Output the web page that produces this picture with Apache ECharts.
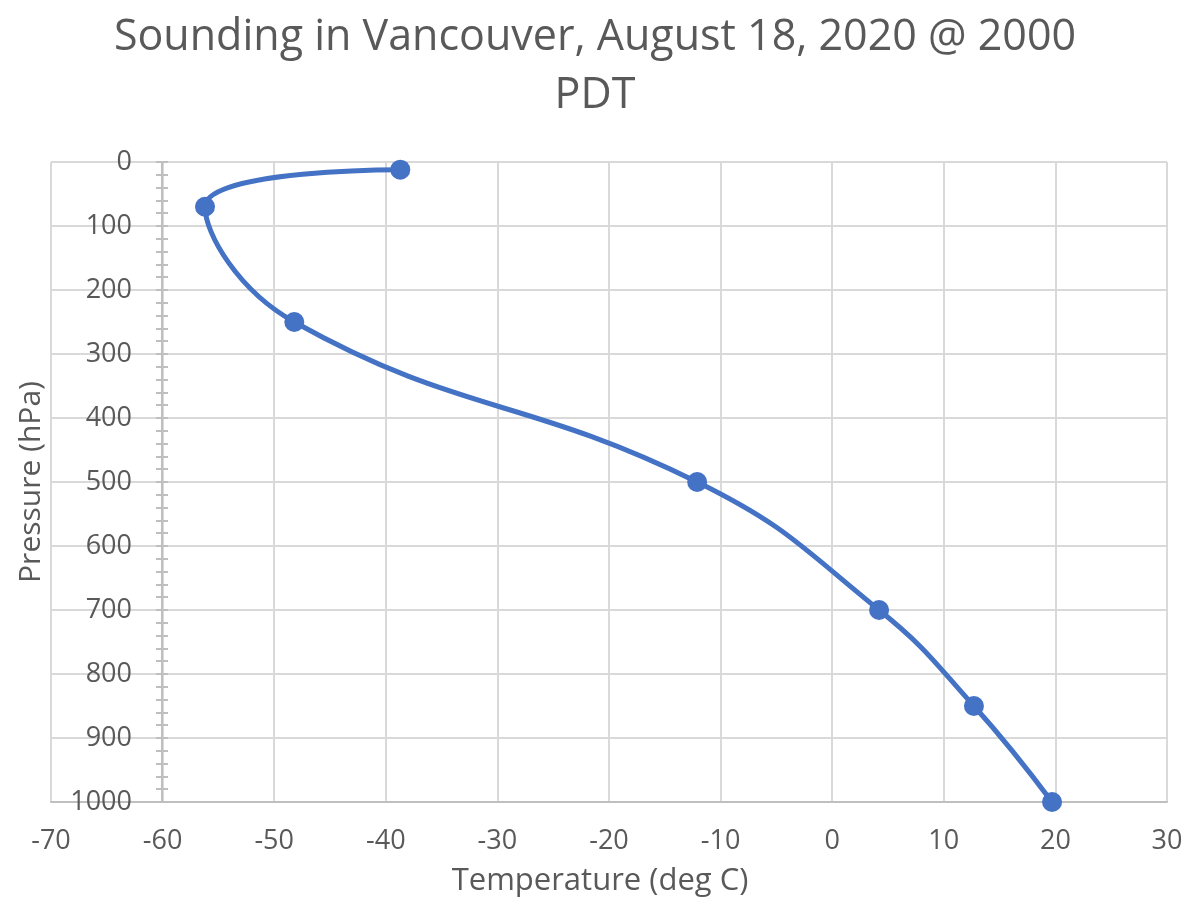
<!DOCTYPE html>
<html>
<head>
<meta charset="utf-8">
<title>Sounding in Vancouver</title>
<script src="https://cdn.jsdelivr.net/npm/echarts@6/dist/echarts.min.js"></script>
<style>
  html, body { margin: 0; padding: 0; background: #ffffff; }
  #chart { width: 1191px; height: 914px; }
</style>
</head>
<body>
<div id="chart"></div>
<script>
// sounding levels (top to surface)
const temperature = [-38.7, -56.2, -48.2, -12.1, 4.2, 12.7, 19.7];
const pressure = [12, 70, 250, 500, 700, 850, 1000];

const textColor = "#595959";
const gridColor = "#d9d9d9";
const axisColor = "#bfbfbf";
const fontFamily = "'Open Sans', 'Noto Sans', sans-serif";

const points = temperature.map((t, i) => [t, pressure[i]]);

const chart = echarts.init(document.getElementById("chart"));

// y axis crosses at -60, so push it right from the grid's left edge
const yOffset = -111;

const yBase = {
  type: "value",
  min: 0,
  max: 1000,
  interval: 100,
  inverse: true,
  position: "left",
  offset: yOffset,
  axisLine: { show: true, onZero: false, lineStyle: { color: axisColor, width: 2 } },
};

chart.setOption({
  animation: false,
  textStyle: { fontFamily: fontFamily },
  title: {
    text: "Sounding in Vancouver, August 18, 2020 @ 2000\nPDT",
    left: 590,
    textAlign: "center",
    top: 4,
    textStyle: {
      color: textColor,
      fontSize: 43,
      fontWeight: "normal",
      lineHeight: 58,
      fontFamily: fontFamily,
    },
  },
  grid: { left: 51, right: 24, top: 162, bottom: 112 },
  xAxis: {
    type: "value",
    min: -70,
    max: 30,
    interval: 10,
    name: "Temperature (deg C)",
    nameLocation: "middle",
    nameGap: 64,
    nameTextStyle: { color: textColor, fontSize: 31, padding: [0, 18, 0, 0] },
    axisLine: { show: true, onZero: false, lineStyle: { color: axisColor, width: 2 } },
    axisTick: { show: false },
    axisLabel: { color: textColor, fontSize: 27, margin: 26 },
    splitLine: { show: true, lineStyle: { color: gridColor, width: 2 } },
  },
  yAxis: [
    Object.assign({}, yBase, {
      name: "Pressure (hPa)",
      nameLocation: "middle",
      nameGap: 116,
      nameTextStyle: { color: textColor, fontSize: 30 },
      axisTick: { show: true, inside: false, length: 6, lineStyle: { color: axisColor, width: 2 } },
      minorTick: { show: true, splitNumber: 5, length: 6, lineStyle: { color: axisColor, width: 2 } },
      axisLabel: { color: textColor, fontSize: 27, margin: 30, formatter: (v) => String(v) },
      splitLine: { show: true, lineStyle: { color: gridColor, width: 2 } },
    }),
    Object.assign({}, yBase, {
      axisTick: { show: true, inside: true, length: 6, lineStyle: { color: axisColor, width: 2 } },
      minorTick: { show: true, splitNumber: 5, length: 6, lineStyle: { color: axisColor, width: 2 } },
      axisLabel: { show: false },
      splitLine: { show: false },
    }),
  ],
  series: [
    {
      type: "line",
      xAxisIndex: 0,
      yAxisIndex: 0,
      data: points,
      smooth: 0.45,
      symbol: "circle",
      symbolSize: 20,
      itemStyle: { color: "#4472C4" },
      lineStyle: { color: "#4472C4", width: 5 },
    },
  ],
});
</script>
</body>
</html>
